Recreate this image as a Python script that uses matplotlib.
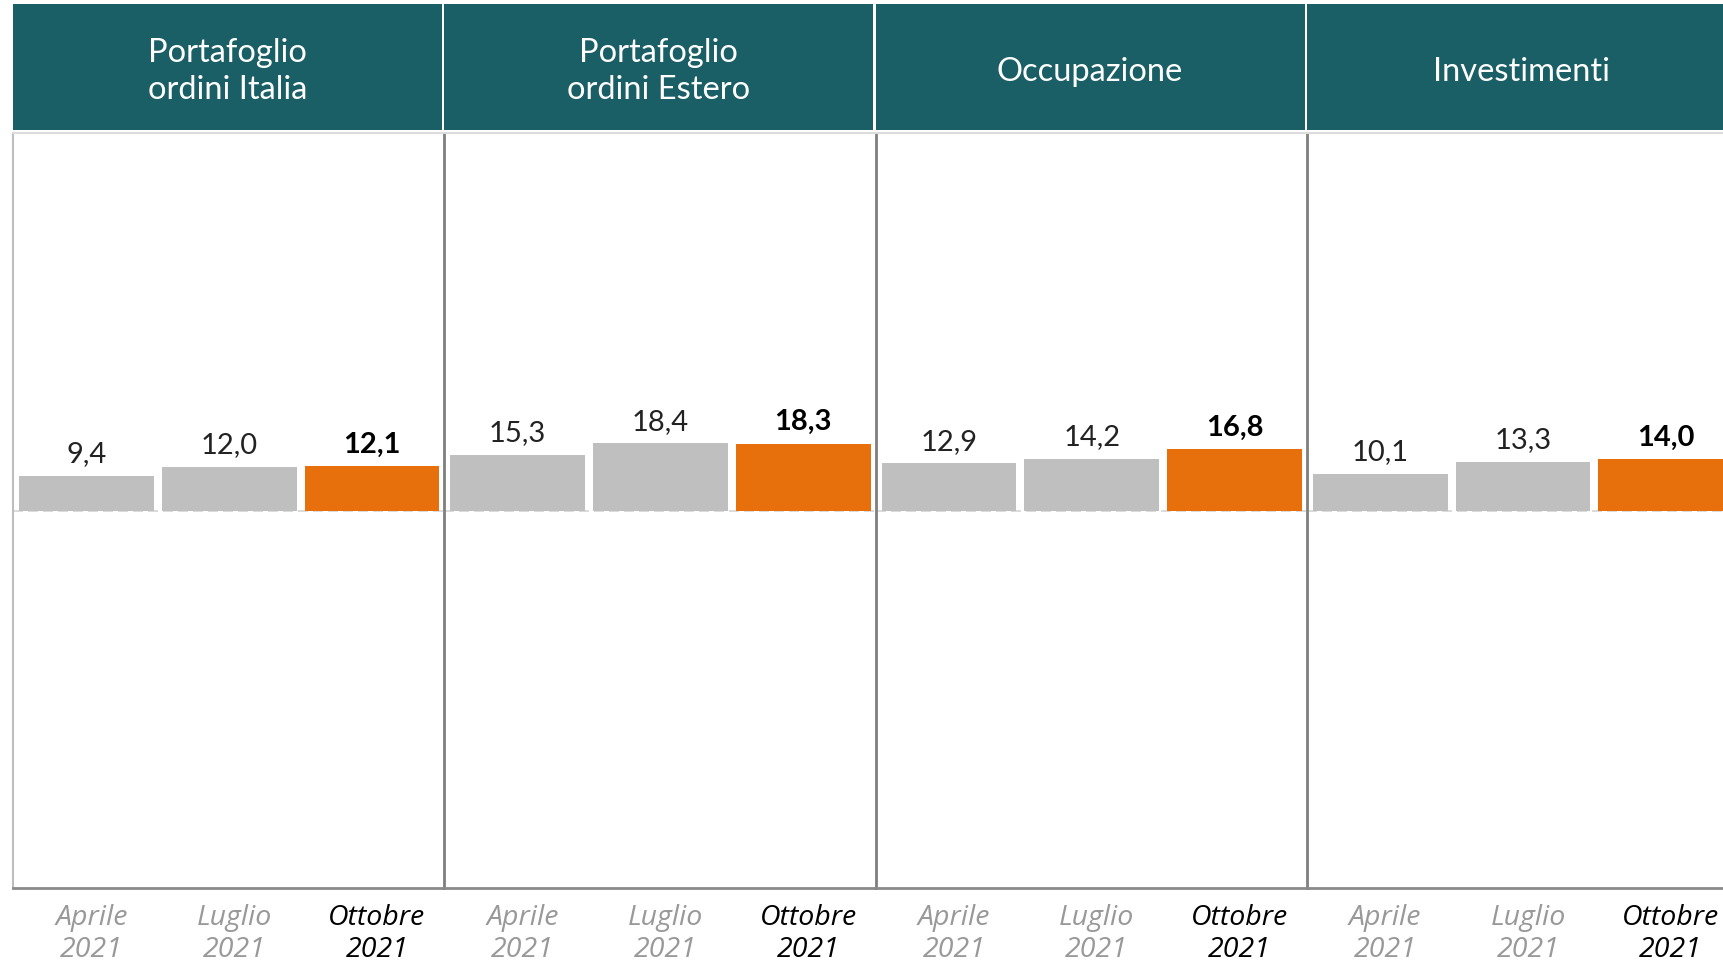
import numpy as np
import matplotlib
matplotlib.use("Agg")
import matplotlib.pyplot as plt

# data
panels = ["Portafoglio\nordini Italia", "Portafoglio\nordini Estero",
          "Occupazione", "Investimenti"]
periods = ["Aprile\n2021", "Luglio\n2021", "Ottobre\n2021"]
italia = [9.4, 12.0, 12.1]
estero = [15.3, 18.4, 18.3]
occupazione = [12.9, 14.2, 16.8]
investimenti = [10.1, 13.3, 14.0]
series = [italia, estero, occupazione, investimenti]

TEAL = "#1b5f66"
ORANGE = "#e8700c"
GREY = "#bfbfbf"

W, H = 1724, 962
fig = plt.figure(figsize=(W / 100, H / 100), dpi=100)
fig.patch.set_facecolor("white")


def fx(px):
    return px / W


def fy(py):
    # py measured from top
    return 1 - py / H


x = np.arange(len(periods))
step = 431.3
for i, (title, vals) in enumerate(zip(panels, series)):
    left = 13 + i * step

    # header box
    hax = fig.add_axes([fx(left), fy(131), fx(429), (126) / H])
    hax.set_facecolor(TEAL)
    hax.set_xticks([])
    hax.set_yticks([])
    for s in hax.spines.values():
        s.set_visible(False)
    hax.text(0.5, 0.47, title, color="white", ha="center", va="center",
             fontsize=23.5, family="Lato", linespacing=1.3,
             transform=hax.transAxes)

    # panel
    ax = fig.add_axes([fx(left), fy(889), fx(step), (889 - 134) / H])
    colors = [GREY, GREY, ORANGE]
    ax.bar(x, vals, width=0.944, color=colors, zorder=2)
    ax.axhline(0, color="#d4d4d4", ls=(0, (6, 3)), lw=1.2, zorder=1)
    ax.set_xlim(-0.514, 2.507)
    ax.set_ylim(-103.5, 103.5)
    ax.set_yticks([])
    for j, v in enumerate(vals):
        lbl = f"{v:.1f}".replace(".", ",")
        ax.annotate(lbl, (x[j], v), xytext=(0, 7), textcoords="offset points",
                    ha="center", va="bottom", fontsize=21, family="Lato",
                    fontweight="bold" if j == 2 else "normal",
                    color="black" if j == 2 else "#222222")
    # labels sit a touch right of the bar centres (italic)
    ax.set_xticks(x + 0.035)
    ax.set_xticklabels(periods, fontsize=20.5, family="Open Sans",
                       style="italic", linespacing=1.2)
    for j, t in enumerate(ax.get_xticklabels()):
        t.set_color("black" if j == 2 else "#999999")
    ax.tick_params(axis="x", length=0, pad=11)

    ax.spines["top"].set_color("#dcdcdc")
    ax.spines["top"].set_linewidth(1.5)
    ax.spines["right"].set_visible(False)
    ax.spines["bottom"].set_color("#8a8a8a")
    ax.spines["bottom"].set_linewidth(2)
    ax.spines["left"].set_color("#bdbdbd" if i == 0 else "#7f7f7f")
    ax.spines["left"].set_linewidth(1.5 if i == 0 else 2)

fig.savefig("out.png", dpi=100)
